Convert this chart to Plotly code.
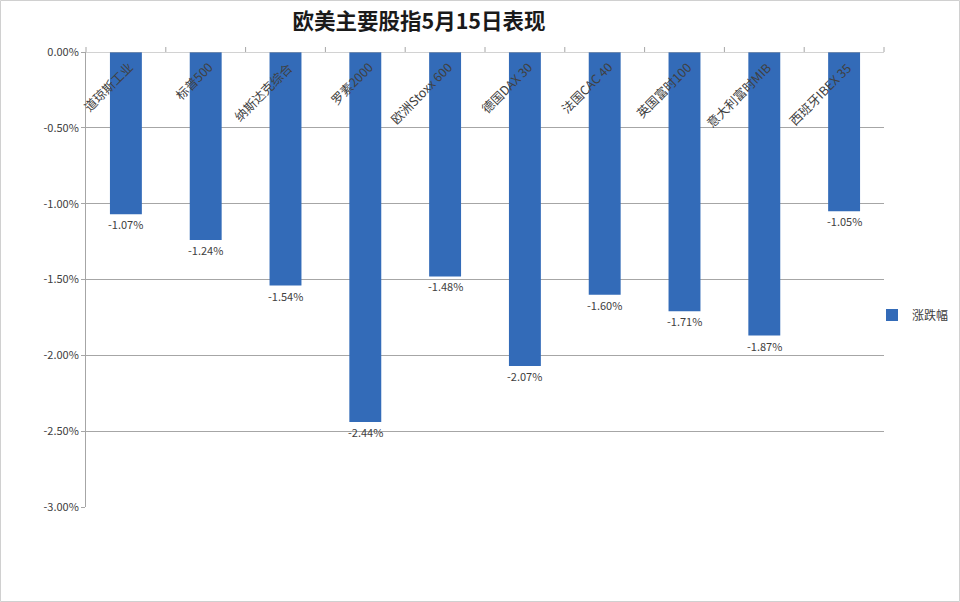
import plotly.graph_objects as go

title = "欧美主要股指5月15日表现"
categories = ["道琼斯工业", "标普500", "纳斯达克综合", "罗素2000", "欧洲Stoxx 600",
              "德国DAX 30", "法国CAC 40", "英国富时100", "意大利富时MIB", "西班牙IBEX 35"]
values = [-1.07, -1.24, -1.54, -2.44, -1.48, -2.07, -1.60, -1.71, -1.87, -1.05]
series_name = "涨跌幅"
y_ticks = [0, -0.5, -1.0, -1.5, -2.0, -2.5, -3.0]
y_tick_labels = ["0.00%", "-0.50%", "-1.00%", "-1.50%", "-2.00%", "-2.50%", "-3.00%"]

W, H = 960, 602
ml, mr, mt, mb = 86, 76, 52, 95
font = "Noto Sans CJK SC, Noto Sans, sans-serif"
txt = "#404040"
grid = "#a6a6a6"
n = len(categories)

fig = go.Figure()
fig.add_trace(go.Bar(
    x=categories, y=values, name=series_name,
    marker=dict(color="#336bb8", line=dict(width=0)),
    showlegend=True,
))

# data labels just below each bar end
for c, v in zip(categories, values):
    fig.add_annotation(x=c, y=v, xref="x", yref="y", text=f"{v:.2f}%", showarrow=False,
                       xanchor="center", yanchor="top", yshift=0,
                       font=dict(size=11, color=txt, family=font))

# rotated category labels inside the plot, under the zero axis
for c in categories:
    fig.add_annotation(x=c, y=0, xref="x", yref="y", text=c, showarrow=False,
                       textangle=-45, xanchor="right", yanchor="top",
                       xshift=14, yshift=-3,
                       font=dict(size=12.5, color=txt, family=font))

pw = W - ml - mr
ph = H - mt - mb
fig.add_shape(type="rect", xref="paper", yref="paper",
              x0=-(ml - 0.5) / pw, x1=1 + (mr - 0.5) / pw,
              y0=-(mb - 0.5) / ph, y1=1 + (mt - 0.5) / ph,
              line=dict(color="#d0d0d0", width=1), layer="below")

fig.update_layout(
    width=W, height=H, margin=dict(l=ml, r=mr, t=mt, b=mb, autoexpand=False),
    paper_bgcolor="white", plot_bgcolor="white",
    title=dict(text=f"<b>{title}</b>", x=419 / W, xanchor="center",
               y=1 - 21 / H, yanchor="middle",
               font=dict(size=21.5, color="#1a1a1a", family=font)),
    bargap=0.6,
    font=dict(family=font, color=txt),
    legend=dict(x=(872 - ml) / pw, y=(507 - 315) / ph, xanchor="left", yanchor="middle",
                font=dict(size=12, color=txt, family=font), bgcolor="rgba(0,0,0,0)"),
    xaxis=dict(type="category", range=[-0.5, n - 0.5], showticklabels=False,
               showgrid=False, zeroline=False, showline=False, ticks=""),
    yaxis=dict(range=[-3, 0], tickmode="array", tickvals=y_ticks, ticktext=y_tick_labels,
               showgrid=True, gridcolor=grid, gridwidth=1, zeroline=False,
               showline=True, linecolor=grid, linewidth=1,
               ticks="outside", ticklen=4, tickcolor=grid,
               tickfont=dict(size=11, color=txt, family=font)),
)

# top axis line with category boundary tick marks
fig.add_shape(type="line", xref="paper", yref="y", x0=0, x1=1, y0=0, y1=0,
              line=dict(color=grid, width=1))
for i in range(n + 1):
    fig.add_shape(type="line", xref="paper", yref="paper", x0=i / n, x1=i / n,
                  y0=1, y1=1 + 5 / ph, line=dict(color=grid, width=1))

fig.write_html("out.html")
